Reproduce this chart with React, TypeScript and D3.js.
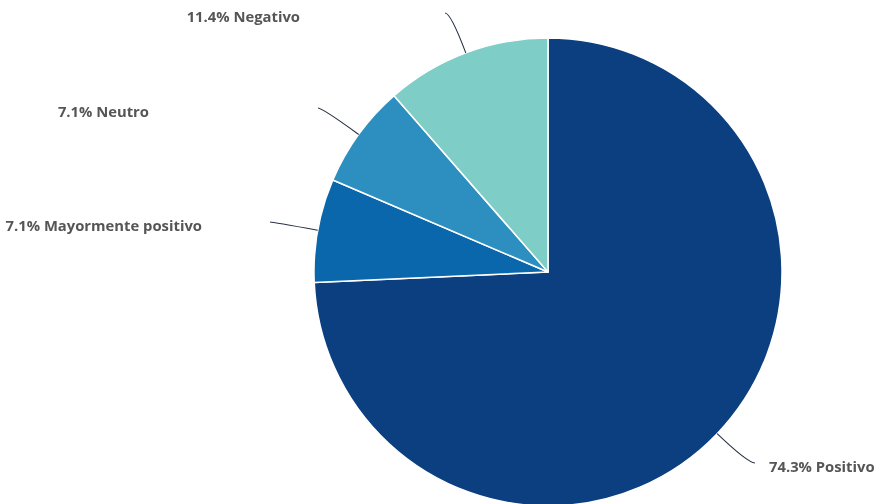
import React from "react";
import * as d3 from "d3";

const categories = ["Positivo", "Mayormente positivo", "Neutro", "Negativo"];
const counts = [52, 5, 5, 8];
const colors = ["#0b3f80", "#0a67ab", "#2d8fc0", "#7ecdc6"];

// label layout (connector end offset from centre, text anchor side)
const labelLayout = [
  { ex: 207, ey: 191, side: "start" },
  { ex: -278, ey: -50, side: "end" },
  { ex: -230, ey: -164, side: "end" },
  { ex: -103, ey: -259, side: "end" },
];
const textGap = [14, 68, 169, 145];

const W = 879;
const H = 504;
const cx = 548;
const cy = 272;
const R = 234;

export default function App() {
  const total = d3.sum(counts);
  const pie = d3.pie<number>().sort(null).value((d) => d)(counts);
  const arc = d3.arc<d3.PieArcDatum<number>>().innerRadius(0).outerRadius(R);
  return (
    <svg
      width={W}
      height={H}
      style={{ position: "fixed", left: 0, top: 0, display: "block" }}
      fontFamily="'Open Sans', Lato, sans-serif"
    >
      <g transform={`translate(${cx},${cy})`}>
        {pie.map((p, i) => (
          <path key={i} d={arc(p) || ""} fill={colors[i]} stroke="#fff" strokeWidth={1.5} strokeLinejoin="round" />
        ))}
        {pie.map((p, i) => {
          const mid = (p.startAngle + p.endAngle) / 2;
          const dx = Math.sin(mid);
          const dy = -Math.cos(mid);
          const sx = dx * R;
          const sy = dy * R;
          const L = labelLayout[i];
          const t = (L.ey - sy) / dy;
          const qx = sx + dx * t;
          const qy = L.ey;
          const pct = ((counts[i] / total) * 100).toFixed(1) + "% " + categories[i];
          const tx = L.side === "start" ? L.ex + textGap[i] : L.ex - textGap[i];
          return (
            <g key={"l" + i}>
              <path
                d={`M${sx},${sy} Q${qx},${qy} ${L.ex},${L.ey}`}
                fill="none"
                stroke="#273142"
                strokeWidth={1.1}
              />
              <text
                x={tx}
                y={L.ey + 4}
                dy="0.35em"
                textAnchor={L.side}
                fontSize={14.8}
                fontWeight={700}
                fill="#555555"
              >
                {pct}
              </text>
            </g>
          );
        })}
      </g>
    </svg>
  );
}
